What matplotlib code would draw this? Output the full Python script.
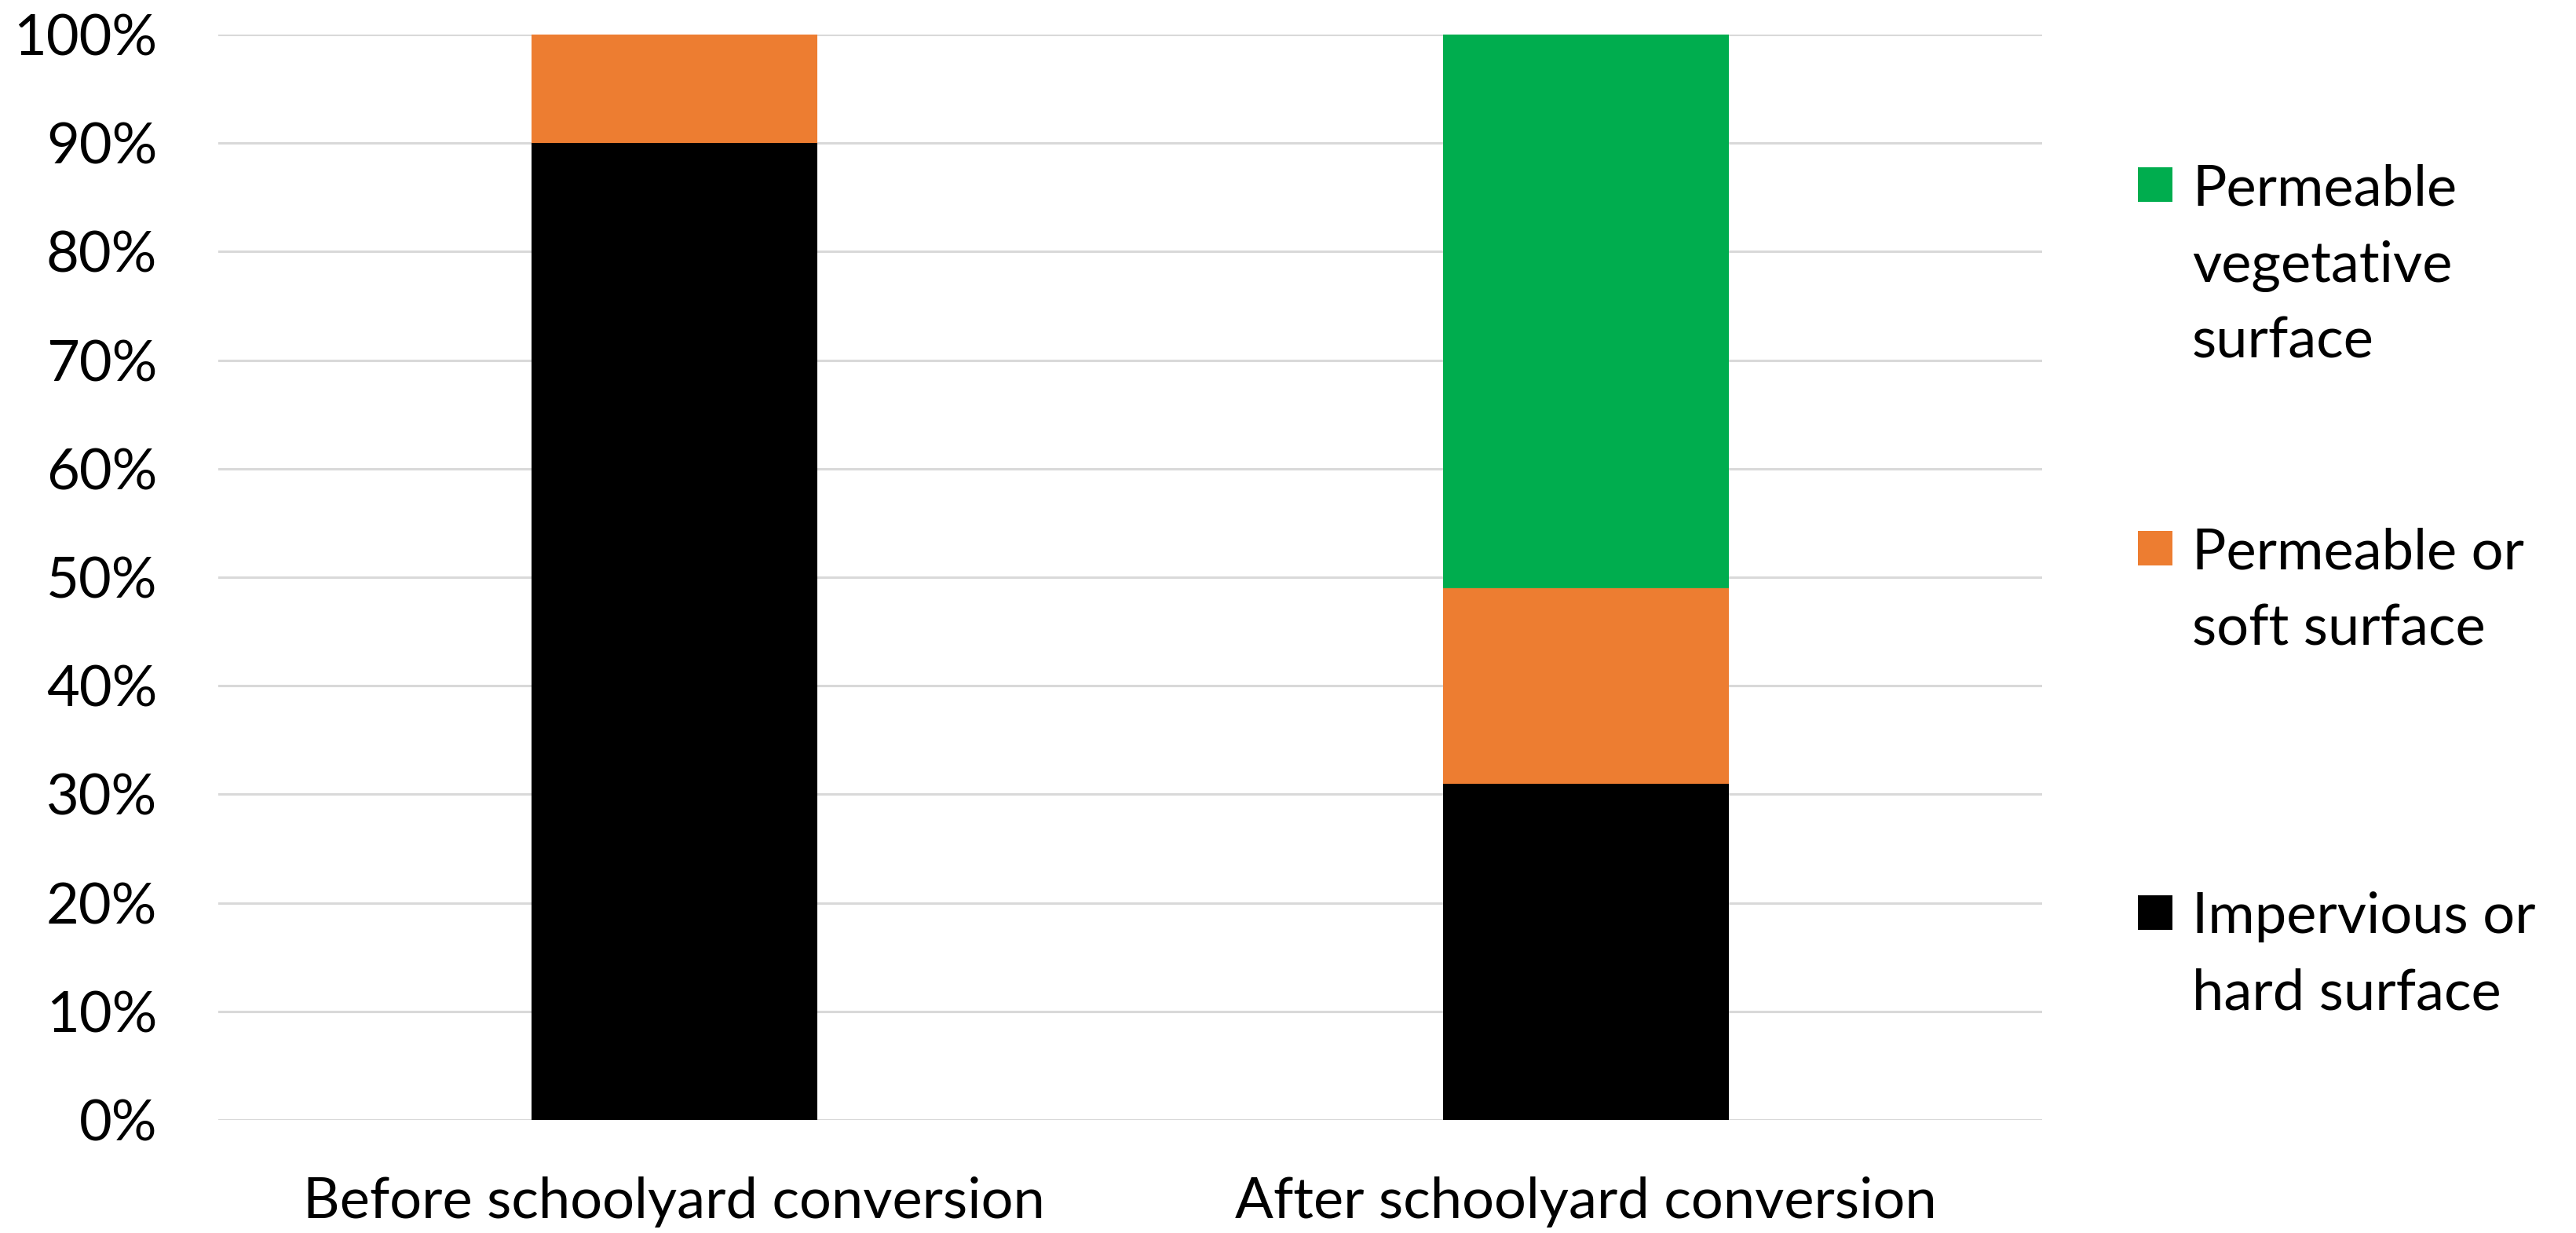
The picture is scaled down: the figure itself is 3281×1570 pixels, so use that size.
import matplotlib
matplotlib.use("Agg")
import matplotlib.pyplot as plt
from matplotlib.patches import Rectangle
from matplotlib.ticker import FuncFormatter

# Surface cover shares (%) for each schoolyard state
categories = ["Before schoolyard conversion", "After schoolyard conversion"]
impervious = [90, 31]
soft = [10, 18]
vegetative = [0, 51]

series_labels = ["Impervious or\nhard surface",
                 "Permeable or\nsoft surface",
                 "Permeable\nvegetative\nsurface"]
series_colors = ["#000000", "#ED7D31", "#00AD4E"]

W, H, DPI = 3281, 1570, 100
FONT_SIZE = 52

plt.rcParams['font.family'] = ['Lato', 'DejaVu Sans']
plt.rcParams['font.size'] = FONT_SIZE

fig = plt.figure(figsize=(W / DPI, H / DPI), dpi=DPI, facecolor="white")
ax = fig.add_axes([278 / W, 1 - 1426 / H, (2601 - 278) / W, (1426 - 44) / H])

x = list(range(len(categories)))
bar_w = 0.313
bottom = [0] * len(categories)
for vals, color in zip([impervious, soft, vegetative], series_colors):
    ax.bar(x, vals, bar_w, bottom=bottom, color=color, edgecolor="none", zorder=3)
    bottom = [b + v for b, v in zip(bottom, vals)]

ax.set_xlim(-0.5, len(categories) - 0.5)
ax.set_ylim(0, 100)
ax.set_yticks(range(0, 101, 10))
ax.yaxis.set_major_formatter(FuncFormatter(lambda v, _: f"{v:.0f}%"))
ax.set_xticks(x)
ax.set_xticklabels(categories)

ax.grid(axis="y", color="#D9D9D9", linewidth=2.2, zorder=0)
ax.set_axisbelow(True)
for s in ax.spines.values():
    s.set_visible(False)
ax.tick_params(axis="y", length=0, pad=56)
ax.tick_params(axis="x", length=0, pad=52)

# Legend drawn by hand so each swatch sits beside the first line of its label
text_x = 2792
sq = 44
first_baseline = 261
step = 463.5
line_step = 97.5
legend_order = [2, 1, 0]
for row, idx in enumerate(legend_order):
    base = first_baseline + row * step
    for k, line in enumerate(series_labels[idx].split("\n")):
        fig.text(text_x / W, 1 - (base + k * line_step) / H, line,
                 ha="left", va="baseline", fontsize=FONT_SIZE)
    cy = base - 26
    fig.add_artist(Rectangle(((2745 - sq / 2) / W, 1 - (cy + sq / 2) / H), sq / W, sq / H,
                             transform=fig.transFigure, facecolor=series_colors[idx],
                             edgecolor="none"))

fig.savefig("out.png", dpi=DPI, facecolor="white")
